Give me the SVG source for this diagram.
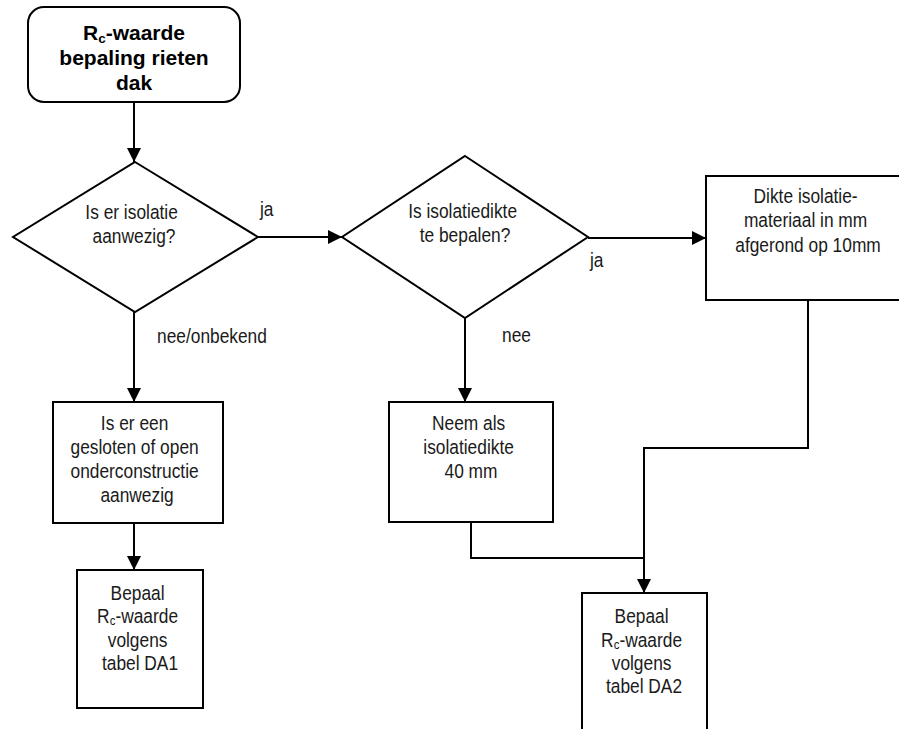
<svg xmlns="http://www.w3.org/2000/svg" width="899" height="729" viewBox="0 0 899 729">
  <defs>
    <marker id="arrow" markerUnits="userSpaceOnUse" markerWidth="14" markerHeight="14" viewBox="0 0 14 14" refX="14" refY="7" orient="auto">
      <path d="M0,0 L14,7 L0,14 Z" fill="#000"/>
    </marker>
  </defs>
  <style>
    .shape { fill: #fff; stroke: #000; stroke-width: 2; }
    .link { fill: none; stroke: #000; stroke-width: 2; }
    .txt { font-family: "Liberation Sans", Arial, sans-serif; font-size: 19.5px; fill: #1a1a1a; text-anchor: middle; }
    .lbl { font-family: "Liberation Sans", Arial, sans-serif; font-size: 19.5px; fill: #1a1a1a; }
    .title { font-family: "Liberation Sans", Arial, sans-serif; font-size: 21px; font-weight: bold; fill: #000; text-anchor: middle; }
  </style>
  <rect width="899" height="729" fill="#fff"/>

  <!-- connectors -->
  <g id="connectors">
    <path class="link" d="M134,103 V162" marker-end="url(#arrow)"/>
    <path class="link" d="M258,237 H342" marker-end="url(#arrow)"/>
    <path class="link" d="M588,238 H706" marker-end="url(#arrow)"/>
    <path class="link" d="M134,312 V402" marker-end="url(#arrow)"/>
    <path class="link" d="M465,318 V402" marker-end="url(#arrow)"/>
    <path class="link" d="M134,523 V570" marker-end="url(#arrow)"/>
    <path class="link" d="M808,300 V448 H644 V593" marker-end="url(#arrow)"/>
    <path class="link" d="M471,522 V558 H644"/>
    <text class="lbl" transform="translate(260 216) scale(0.89 1)">ja</text>
    <text class="lbl" transform="translate(590 267) scale(0.89 1)">ja</text>
    <text class="lbl" transform="translate(157 343) scale(0.89 1)">nee/onbekend</text>
    <text class="lbl" transform="translate(502 342) scale(0.89 1)">nee</text>
  </g>

  <!-- start -->
  <g id="start">
    <rect class="shape" x="28" y="7" width="212" height="95" rx="16" ry="16"/>
    <text class="title" x="134" y="40">R<tspan font-size="13.5" dy="3">c</tspan><tspan dy="-3">-waarde</tspan></text>
    <text class="title" x="134" y="65">bepaling rieten</text>
    <text class="title" x="134" y="90">dak</text>
  </g>

  <!-- decision: insulation present -->
  <g id="isolatie-aanwezig">
    <path class="shape" d="M135,162 L258,237 L135,312 L13,237 Z"/>
    <text class="txt" transform="translate(134 219) scale(0.89 1)">
      <tspan x="0" y="0">Is er isolatie</tspan>
      <tspan x="0" y="24">aanwezig?</tspan>
    </text>
  </g>

  <!-- decision: thickness determinable -->
  <g id="isolatiedikte-bepalen">
    <path class="shape" d="M465,156 L588,237 L465,318 L342,237 Z"/>
    <text class="txt" transform="translate(465 218) scale(0.89 1)">
      <tspan x="0" y="0">Is isolatiedikte</tspan>
      <tspan x="0" y="24">te bepalen?</tspan>
    </text>
  </g>

  <!-- measured thickness -->
  <g id="dikte-isolatie">
    <rect class="shape" x="706" y="176" width="206" height="124"/>
    <text class="txt" transform="translate(808 203) scale(0.89 1)">
      <tspan x="0" y="0">Dikte isolatie-</tspan>
      <tspan x="0" y="24.5">materiaal in mm</tspan>
      <tspan x="0" y="49">afgerond op 10mm</tspan>
    </text>
  </g>

  <!-- substructure question -->
  <g id="onderconstructie">
    <rect class="shape" x="53" y="402" width="170" height="121"/>
    <text class="txt" transform="translate(137 430) scale(0.89 1)">
      <tspan x="0" y="0">Is er een</tspan>
      <tspan x="0" y="24">gesloten of open</tspan>
      <tspan x="0" y="48">onderconstructie</tspan>
      <tspan x="0" y="72">aanwezig</tspan>
    </text>
  </g>

  <!-- default thickness -->
  <g id="neem-40mm">
    <rect class="shape" x="389" y="402" width="164" height="120"/>
    <text class="txt" transform="translate(471 430) scale(0.89 1)">
      <tspan x="0" y="0">Neem als</tspan>
      <tspan x="0" y="24.5">isolatiedikte</tspan>
      <tspan x="0" y="48">40 mm</tspan>
    </text>
  </g>

  <!-- table DA1 -->
  <g id="tabel-da1">
    <rect class="shape" x="77" y="570" width="126" height="138"/>
    <text class="txt" transform="translate(140 600) scale(0.89 1)">
      <tspan x="0" y="0">Bepaal</tspan>
      <tspan x="0" y="23.5">R<tspan font-size="13" dy="2">c</tspan><tspan dy="-2">-waarde</tspan></tspan>
      <tspan x="0" y="47">volgens</tspan>
      <tspan x="0" y="70">tabel DA1</tspan>
    </text>
  </g>

  <!-- table DA2 -->
  <g id="tabel-da2">
    <rect class="shape" x="582" y="593" width="125" height="150"/>
    <text class="txt" transform="translate(644 623) scale(0.89 1)">
      <tspan x="0" y="0">Bepaal</tspan>
      <tspan x="0" y="24">R<tspan font-size="13" dy="2">c</tspan><tspan dy="-2">-waarde</tspan></tspan>
      <tspan x="0" y="47">volgens</tspan>
      <tspan x="0" y="70">tabel DA2</tspan>
    </text>
  </g>
</svg>
